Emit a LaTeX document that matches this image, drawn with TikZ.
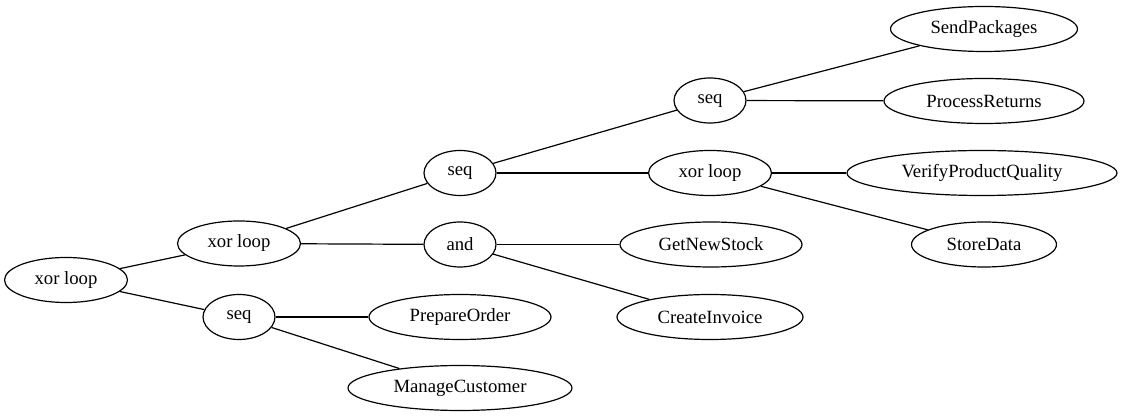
\documentclass[tikz,border=0pt]{standalone}
\usepackage{fontspec}
\setmainfont{Liberation Serif}
\newfontfamily\graphfont{Liberation Serif}
\usetikzlibrary{shapes.geometric}

\begin{document}
\begin{tikzpicture}[x=1pt, y=-1pt]
    \tikzset{VertexStyle/.style = {draw,
        ellipse,
        line width    = 1.2pt,
        minimum height = 45pt,
        inner sep     = 0pt,
        font          = \graphfont\fontsize{18.7}{22}\selectfont},
      EdgeStyle/.style = {line width=1.2pt}}
    \useasboundingbox (0,0) rectangle (1122,419);
    \node[VertexStyle, minimum width=123pt] (A) at (66,280) {xor loop};
    \node[VertexStyle, minimum width=123pt] (B) at (239,243.5) {xor loop};
    \node[VertexStyle, minimum width=72pt] (C) at (239,317) {seq};
    \node[VertexStyle, minimum width=72pt] (D) at (460,173) {seq};
    \node[VertexStyle, minimum width=72pt] (E) at (460,244.5) {and};
    \node[VertexStyle, minimum width=182pt] (F) at (460,317) {PrepareOrder};
    \node[VertexStyle, minimum width=224pt] (G) at (460,388) {ManageCustomer};
    \node[VertexStyle, minimum width=72pt] (H) at (710,100.5) {seq};
    \node[VertexStyle, minimum width=123pt] (I) at (710,173) {xor loop};
    \node[VertexStyle, minimum width=182pt] (J) at (711,244.5) {GetNewStock};
    \node[VertexStyle, minimum width=186pt] (K) at (710,317) {CreateInvoice};
    \node[VertexStyle, minimum width=187pt] (L) at (984,29) {SendPackages};
    \node[VertexStyle, minimum width=200pt] (M) at (984,101) {ProcessReturns};
    \node[VertexStyle, minimum width=270pt] (N) at (982,173) {VerifyProductQuality};
    \node[VertexStyle, minimum width=145pt] (O) at (984,244.5) {StoreData};
    \draw[EdgeStyle] (A) -- (B);
    \draw[EdgeStyle] (A) -- (C);
    \draw[EdgeStyle] (B) -- (D);
    \draw[EdgeStyle] (B) -- (E);
    \draw[EdgeStyle] (C) -- (F);
    \draw[EdgeStyle] (C) -- (G);
    \draw[EdgeStyle] (D) -- (H);
    \draw[EdgeStyle] (D) -- (I);
    \draw[EdgeStyle] (E) -- (J);
    \draw[EdgeStyle] (E) -- (K);
    \draw[EdgeStyle] (H) -- (L);
    \draw[EdgeStyle] (H) -- (M);
    \draw[EdgeStyle] (I) -- (N);
    \draw[EdgeStyle] (I) -- (O);
  \end{tikzpicture}
\end{document}
